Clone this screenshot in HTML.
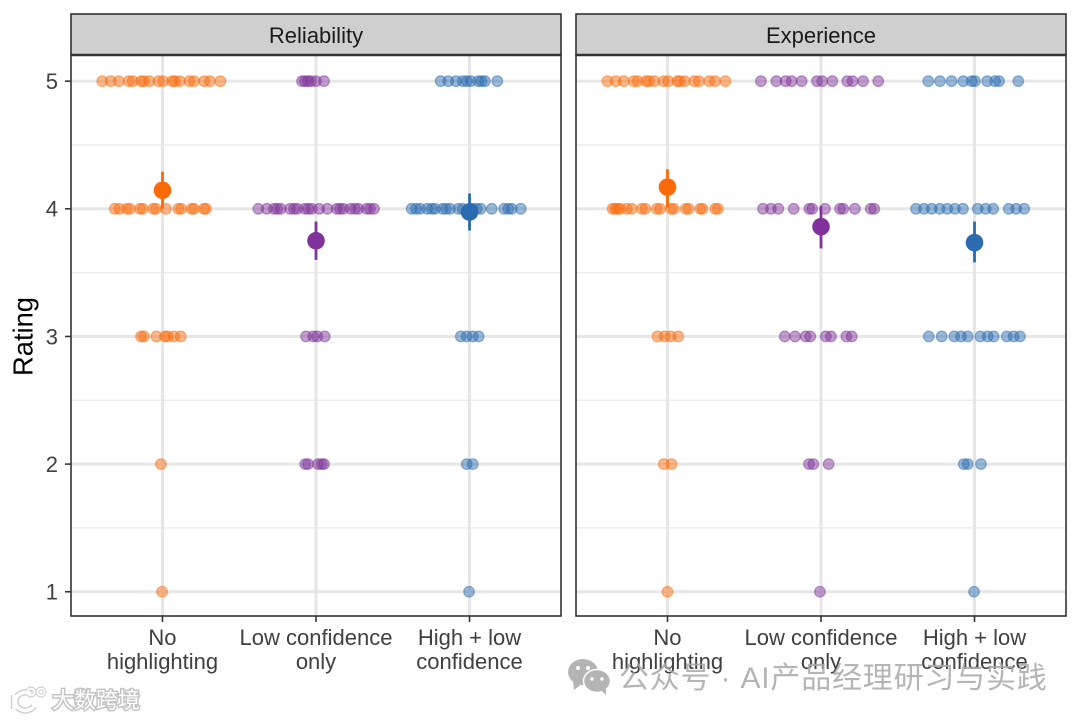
<!DOCTYPE html>
<html lang="zh">
<head>
<meta charset="utf-8">
<title>Reliability and Experience ratings</title>
<style>
html,body{margin:0;padding:0;background:#fff;width:1080px;height:720px;overflow:hidden}
svg{display:block;font-family:"Liberation Sans","Noto Sans CJK SC",sans-serif}
</style>
</head>
<body>
<svg id="chart" width="1080" height="720" viewBox="0 0 1080 720" xmlns="http://www.w3.org/2000/svg">
  <rect width="1080" height="720" fill="#ffffff"/>
  <g id="plot"></g>
  <g>
    <g fill="#b4b4b4">
      <ellipse cx="583" cy="672" rx="15" ry="13"/>
      <path d="M573 680 L574 690 L583 683 Z"/>
      <ellipse cx="597" cy="681" rx="13.5" ry="11.5" stroke="#ffffff" stroke-width="1.5"/>
      <path d="M601 690 L606 695 L606 687 Z"/>
      <circle cx="578" cy="668" r="2" fill="#fff"/>
      <circle cx="588" cy="668" r="2" fill="#fff"/>
      <circle cx="592" cy="679" r="1.7" fill="#fff"/>
      <circle cx="602" cy="679" r="1.7" fill="#fff"/>
    </g>
    <text x="619" y="688" font-size="30" letter-spacing="0.8" fill="#a8a8a8" fill-opacity="0.85" font-family="'Liberation Sans','Noto Sans CJK SC',sans-serif">公众号 · AI产品经理研习与实践</text>
  </g>
  <g>
    <g fill="none" stroke="#d0d0d0" stroke-width="6.5">
      <path d="M14 695 L14 709"/>
      <path d="M31 694 A10 9 0 1 0 34 706"/>
      <circle cx="31" cy="692" r="3.5" stroke-width="4"/>
      <circle cx="41" cy="692" r="3.5" stroke-width="4"/>
    </g>
    <g fill="none" stroke="#ffffff" stroke-width="3.5">
      <path d="M14 695 L14 709"/>
      <path d="M31 694 A10 9 0 1 0 34 706"/>
      <circle cx="31" cy="692" r="3.5" stroke-width="1.8"/>
      <circle cx="41" cy="692" r="3.5" stroke-width="1.8"/>
    </g>
    <text x="52" y="708" font-size="22" fill="#ffffff" stroke="#c4c4c4" stroke-width="3" paint-order="stroke" font-family="'Liberation Sans','Noto Sans CJK SC',sans-serif">大数跨境</text>
  </g>
</svg>
<script>
// ---------- chart data ----------
const panelTitles = ["Reliability", "Experience"];
const categoryLines = [["No", "highlighting"], ["Low confidence", "only"], ["High + low", "confidence"]];
const categoryKeys = ["no-highlighting", "low-confidence-only", "high-low-confidence"];
const ratingTicks = [1, 2, 3, 4, 5];
const minorTicks = [1.5, 2.5, 3.5, 4.5];
const seriesColors = ["#fa6a0a", "#80339a", "#2b6cb0"];

// Individual responses: rating -> horizontal jitter, in category-axis units
const reliabilityNone = {
  5: [-0.392,-0.337,-0.285,-0.220,-0.194,-0.140,-0.121,-0.086,-0.025,0.005,0.064,0.081,0.112,0.175,0.205,0.272,0.309,0.377],
  4: [-0.311,-0.281,-0.233,-0.212,-0.147,-0.129,-0.060,-0.042,0.023,0.103,0.121,0.190,0.205,0.270,0.283],
  3: [-0.140,-0.121,-0.040,0.016,0.034,0.075,0.119],
  2: [-0.010],
  1: [-0.003]
};
const reliabilityLow = {
  5: [-0.091,-0.072,-0.052,-0.033,0,0.052],
  4: [-0.376,-0.321,-0.274,-0.252,-0.230,-0.169,-0.143,-0.122,-0.072,-0.050,-0.028,0.021,0.074,0.135,0.156,0.178,0.226,0.254,0.276,0.330,0.352,0.378],
  3: [-0.065,-0.018,0.008,0.057],
  2: [-0.070,-0.052,0.013,0.037,0.052],
  1: []
};
const reliabilityHigh = {
  5: [-0.188,-0.138,-0.088,-0.044,-0.018,0.008,0.057,0.079,0.101,0.181],
  4: [-0.377,-0.349,-0.322,-0.275,-0.246,-0.225,-0.175,-0.153,-0.127,-0.073,-0.044,0,0.02,0.047,0.073,0.145,0.225,0.253,0.275,0.334],
  3: [-0.057,-0.018,0.021,0.060],
  2: [-0.018,0.021],
  1: [-0.003]
};
const experienceNone = {
  5: [-0.392,-0.337,-0.285,-0.220,-0.194,-0.140,-0.121,-0.086,-0.025,0.005,0.064,0.081,0.112,0.175,0.205,0.272,0.309,0.377],
  4: [-0.358,-0.341,-0.324,-0.308,-0.265,-0.233,-0.167,-0.145,-0.070,-0.048,0.024,0.041,0.119,0.137,0.213,0.228,0.311,0.328],
  3: [-0.065,-0.018,0.020,0.070],
  2: [-0.024,0.026],
  1: [0]
};
const experienceLow = {
  5: [-0.391,-0.291,-0.230,-0.191,-0.126,-0.026,0.008,0.074,0.171,0.206,0.274,0.373],
  4: [-0.378,-0.326,-0.278,-0.178,-0.076,-0.057,0.026,0.124,0.145,0.221,0.324,0.347],
  3: [-0.236,-0.169,-0.100,-0.070,0.031,0.065,0.165,0.200],
  2: [-0.078,-0.050,0.050],
  1: [-0.007]
};
const experienceHigh = {
  5: [-0.301,-0.225,-0.149,-0.073,-0.018,0.003,0.083,0.134,0.160,0.285],
  4: [-0.381,-0.329,-0.279,-0.227,-0.177,-0.127,-0.075,0.021,0.073,0.122,0.223,0.272,0.324],
  3: [-0.298,-0.214,-0.132,-0.088,-0.044,0.038,0.086,0.125,0.210,0.255,0.296],
  2: [-0.070,-0.044,0.042],
  1: [-0.003]
};

// Means and confidence intervals per category
const reliabilityMeans = [4.145, 3.75, 3.975];
const reliabilityLower = [4.0, 3.60, 3.83];
const reliabilityUpper = [4.29, 3.90, 4.12];
const experienceMeans = [4.17, 3.86, 3.735];
const experienceLower = [4.01, 3.69, 3.58];
const experienceUpper = [4.31, 4.02, 3.90];

const panelResponses = [
  [reliabilityNone, reliabilityLow, reliabilityHigh],
  [experienceNone, experienceLow, experienceHigh]
];
const panelMeans = [reliabilityMeans, experienceMeans];
const panelLower = [reliabilityLower, experienceLower];
const panelUpper = [reliabilityUpper, experienceUpper];

// ---------- layout & scales ----------
const panelLefts = [71, 576];
const panelWidth = 490;
const panelTop = 55;
const panelBottom = 616;
const stripTop = 14;
const xDomain = [0.404, 3.596];
const yDomain = [0.81, 5.205];

function xScale(panel, v) {
  return panelLefts[panel] + (v - xDomain[0]) / (xDomain[1] - xDomain[0]) * panelWidth;
}
function yScale(v) {
  return panelBottom - (v - yDomain[0]) / (yDomain[1] - yDomain[0]) * (panelBottom - panelTop);
}

const NS = "http://www.w3.org/2000/svg";
const plot = document.getElementById("plot");
function make(tag, attrs, parent) {
  const el = document.createElementNS(NS, tag);
  for (const k in attrs) el.setAttribute(k, attrs[k]);
  (parent || plot).appendChild(el);
  return el;
}

panelTitles.forEach(function (title, p) {
  const left = panelLefts[p];
  const right = left + panelWidth;
  const key = title.toLowerCase();

  const panel = make("g", {});
  
  

  const bg = make("rect", { x: left, y: panelTop, width: panelWidth, height: panelBottom - panelTop, fill: "#ffffff" }, panel);
  
  

  minorTicks.forEach(function (t) {
    const g = make("line", { x1: left, x2: right, y1: yScale(t), y2: yScale(t), stroke: "#ececec", "stroke-width": 1.5 }, panel);
    
    
  });
  ratingTicks.forEach(function (t) {
    const g = make("line", { x1: left, x2: right, y1: yScale(t), y2: yScale(t), stroke: "#e6e6e6", "stroke-width": 3 }, panel);
    
    
  });
  categoryLines.forEach(function (c, i) {
    const x = xScale(p, i + 1);
    const g = make("line", { x1: x, x2: x, y1: panelTop, y2: panelBottom, stroke: "#e6e6e6", "stroke-width": 3 }, panel);
    
    
  });

  // individual responses
  panelResponses[p].forEach(function (series, i) {
    const group = make("g", {}, panel);
    
    
    ratingTicks.forEach(function (r) {
      series[r].forEach(function (j) {
        const pt = make("circle", {
          cx: xScale(p, i + 1 + j), cy: yScale(r), r: 5.3,
          fill: seriesColors[i], "fill-opacity": 0.47,
          stroke: seriesColors[i], "stroke-opacity": 0.5, "stroke-width": 1.2
        }, group);
        
        
      });
    });
  });

  // means and intervals
  categoryLines.forEach(function (c, i) {
    const x = xScale(p, i + 1);
    const bar = make("line", {
      x1: x, x2: x, y1: yScale(panelLower[p][i]), y2: yScale(panelUpper[p][i]),
      stroke: seriesColors[i], "stroke-width": 2.8
    }, panel);
    
    
    const dot = make("circle", { cx: x, cy: yScale(panelMeans[p][i]), r: 8.8, fill: seriesColors[i] }, panel);
    
    
  });

  const border = make("rect", { x: left, y: panelTop, width: panelWidth, height: panelBottom - panelTop, fill: "none", stroke: "#333333", "stroke-width": 1.6 }, panel);
  
  

  const strip = make("rect", { x: left, y: stripTop, width: panelWidth, height: panelTop - stripTop, fill: "#cfcfcf", stroke: "#333333", "stroke-width": 1.6 }, panel);
  
  

  const stripEdge = make("line", { x1: left, x2: right, y1: panelTop, y2: panelTop, stroke: "#333333", "stroke-width": 2.4 }, panel);
  
  

  const stripText = make("text", { x: left + panelWidth / 2, y: 43, "text-anchor": "middle", "font-size": 22, fill: "#1a1a1a" }, panel);
  stripText.textContent = title;
  
  

  // x axis ticks and labels
  categoryLines.forEach(function (lines, i) {
    const x = xScale(p, i + 1);
    const tick = make("line", { x1: x, x2: x, y1: panelBottom, y2: panelBottom + 6, stroke: "#333333", "stroke-width": 1.6 }, panel);
    
    
    lines.forEach(function (line, li) {
      const label = make("text", { x: x, y: 645 + li * 24, "text-anchor": "middle", "font-size": 22, fill: "#404040" }, panel);
      label.textContent = line;
      
      
    });
  });
});

// y axis
ratingTicks.forEach(function (t) {
  const y = yScale(t);
  const tick = make("line", { x1: 65, x2: 71, y1: y, y2: y, stroke: "#333333", "stroke-width": 1.6 });
  
  
  const label = make("text", { x: 58, y: y + 7.8, "text-anchor": "end", "font-size": 22, fill: "#404040" });
  label.textContent = String(t);
  
  
});

const yTitle = make("text", { transform: "translate(32.5 336.5) rotate(-90)", "text-anchor": "middle", "font-size": 27.3, fill: "#000000" });
yTitle.textContent = "Rating";


</script>
</body>
</html>
